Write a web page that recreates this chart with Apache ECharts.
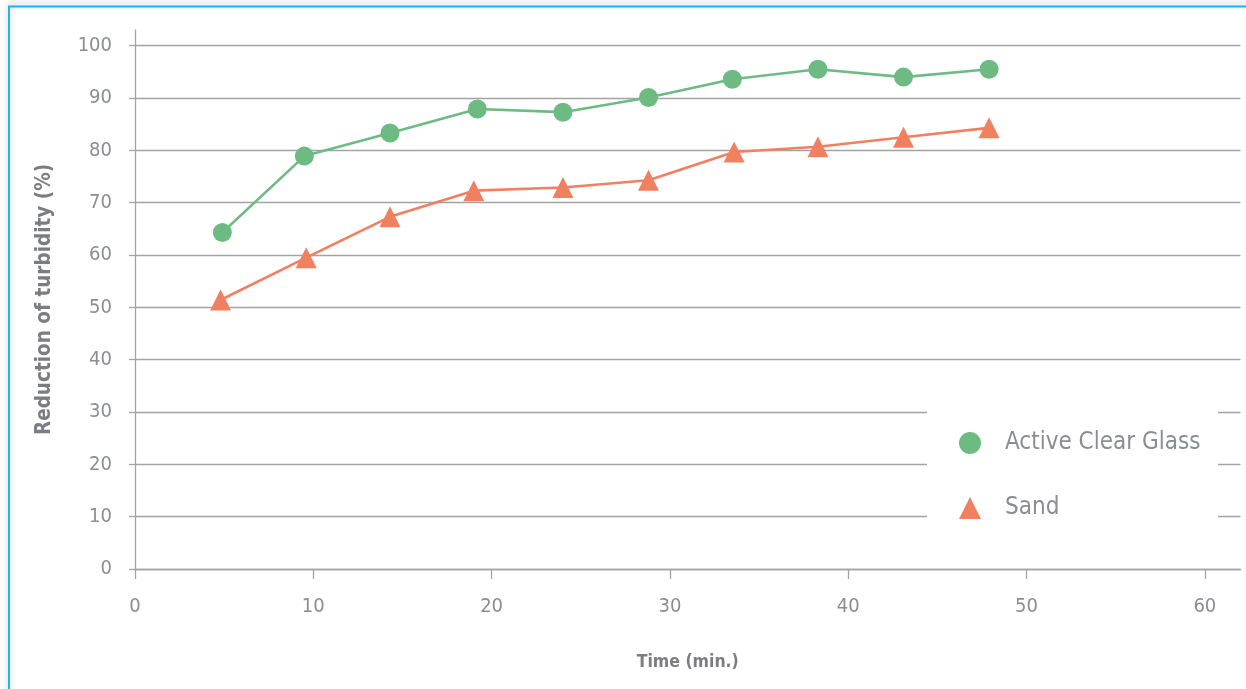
<!DOCTYPE html>
<html><head><meta charset="utf-8">
<script src="https://cdn.jsdelivr.net/npm/echarts@6/dist/echarts.min.js"></script>
<style>html,body{margin:0;padding:0;background:#fff;}#c{width:1246px;height:689px;}</style>
</head><body><div id="c"></div>
<script>
const seriesNames = ['Active Clear Glass', 'Sand'];
const glassTime = [4.9, 9.5, 14.3, 19.2, 24.0, 28.8, 33.5, 38.3, 43.1, 47.9];
const glassValues = [64.3, 78.9, 83.3, 87.9, 87.3, 90.1, 93.6, 95.5, 94.0, 95.5];
const sandTime = [4.8, 9.6, 14.3, 19.0, 24.0, 28.8, 33.6, 38.3, 43.1, 47.9];
const sandValues = [51.4, 59.5, 67.3, 72.3, 72.9, 74.3, 79.7, 80.7, 82.5, 84.3];
const xTicks = [0, 10, 20, 30, 40, 50, 60];
const yTicks = [0, 10, 20, 30, 40, 50, 60, 70, 80, 90, 100];

const NARROW = "'Liberation Sans Narrow', 'DejaVu Sans Condensed', sans-serif";
const labelColor = '#8b8d91';
const lineGray = '#a3a3a3';

const chart = echarts.init(document.getElementById('c'), null, {renderer: 'canvas'});
const gridColors = yTicks.map(() => lineGray).concat(['rgba(0,0,0,0)', 'rgba(0,0,0,0)']);

chart.setOption({
  animation: false,
  backgroundColor: '#fff',
  grid: {left: 135, right: 5.5, top: 30, bottom: 120},
  graphic: [
    {type: 'rect', z: 0, shape: {x: 9, y: 6.5, width: 1300, height: 800},
     style: {fill: 'none', stroke: '#1db4ef', lineWidth: 2, shadowBlur: 6, shadowColor: 'rgba(0,0,0,0.25)', shadowOffsetY: -2}},
    {type: 'rect', z: 3, shape: {x: 927, y: 385, width: 291, height: 145}, style: {fill: '#fff'}}
  ],
  legend: {
    orient: 'vertical',
    left: 954, top: 426,
    itemWidth: 22, itemHeight: 22,
    itemGap: 41,
    z: 5,
    textStyle: {fontFamily: NARROW, fontSize: 24, color: labelColor, padding: [0, 0, 0, 19]},
    data: [
      {name: seriesNames[0], icon: 'circle'},
      {name: seriesNames[1], icon: 'triangle'}
    ]
  },
  xAxis: {
    type: 'value', min: 0, max: 62,
    name: 'Time (min.)', nameLocation: 'middle', nameGap: 84,
    nameTextStyle: {fontFamily: NARROW, fontWeight: 'bold', fontSize: 17.5, color: '#7b7d81'},
    axisLine: {show: true, lineStyle: {color: lineGray, width: 1.3}},
    axisTick: {show: true, length: 10, customValues: xTicks, lineStyle: {color: lineGray, width: 1.3}},
    axisLabel: {customValues: xTicks, margin: 28, fontFamily: NARROW, fontSize: 20, color: labelColor},
    splitLine: {show: false}
  },
  yAxis: {
    type: 'value', min: 0, max: 103, interval: 10,
    name: 'Reduction of turbidity (%)', nameLocation: 'middle', nameGap: 80,
    nameTextStyle: {fontFamily: NARROW, fontWeight: 'bold', fontSize: 20.5, color: '#7b7d81'},
    axisLine: {show: true, lineStyle: {color: lineGray, width: 1.3}},
    axisTick: {show: true, length: 6, customValues: yTicks, lineStyle: {color: lineGray, width: 1.3}},
    axisLabel: {customValues: yTicks, margin: 23, fontFamily: NARROW, fontSize: 20, color: labelColor},
    splitLine: {show: true, lineStyle: {color: gridColors, width: 1.3}}
  },
  series: [
    {
      name: seriesNames[0], type: 'line', z: 2,
      data: glassTime.map((t, i) => [t, glassValues[i]]),
      symbol: 'circle', symbolSize: 19,
      itemStyle: {color: '#6dbb83'},
      lineStyle: {color: '#6dbb83', width: 2.6}
    },
    {
      name: seriesNames[1], type: 'line', z: 2,
      data: sandTime.map((t, i) => [t, sandValues[i]]),
      symbol: 'triangle', symbolSize: 21,
      itemStyle: {color: '#f08060'},
      lineStyle: {color: '#f08060', width: 2.6}
    }
  ]
});
</script>
</body></html>
